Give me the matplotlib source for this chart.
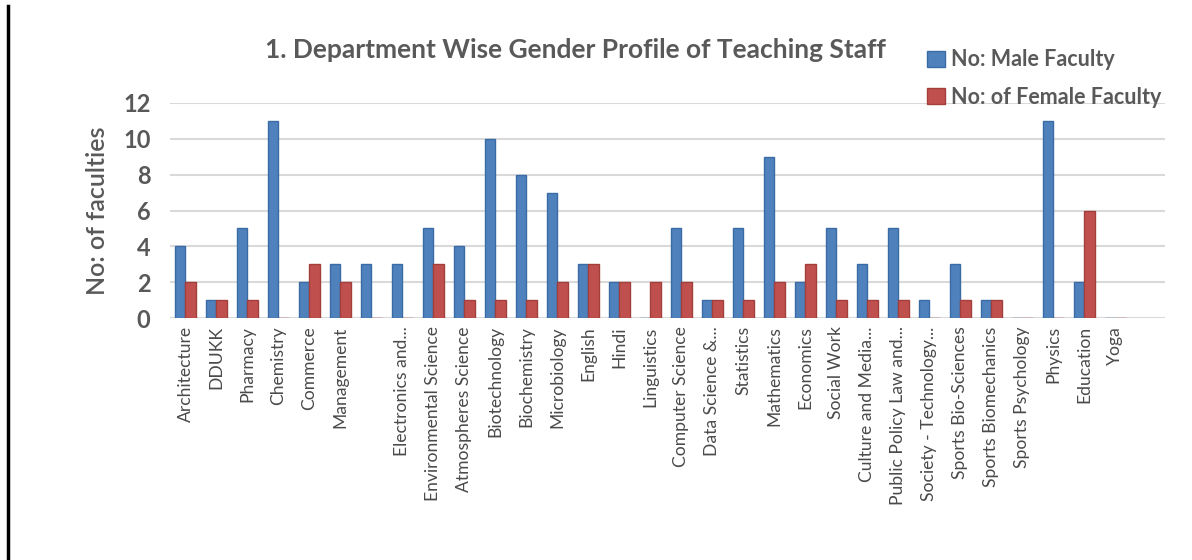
import numpy as np
import matplotlib.pyplot as plt
from matplotlib.lines import Line2D

# department names as printed under the bars (one is blank in the original)
departments = ["Architecture", "DDUKK", "Pharmacy", "Chemistry", "Commerce",
               "Management", "", "Electronics and...", "Environmental Science",
               "Atmospheres Science", "Biotechnology", "Biochemistry",
               "Microbiology", "English", "Hindi", "Linguistics",
               "Computer Science", "Data Science &...", "Statistics",
               "Mathematics", "Economics", "Social Work", "Culture and Media...",
               "Public Policy Law and...", "Society - Technology...",
               "Sports Bio-Sciences", "Sports Biomechanics", "Sports Psychology",
               "Physics", "Education", "Yoga"]

male = [4, 1, 5, 11, 2, 3, 3, 3, 5, 4, 10, 8, 7, 3, 2, 0, 5, 1, 5, 9, 2, 5,
        3, 5, 1, 3, 1, 0, 11, 2, 0]
female = [2, 1, 1, 0, 3, 2, 0, 0, 3, 1, 1, 1, 2, 3, 2, 2, 2, 1, 1, 2, 3, 1,
          1, 1, 0, 1, 1, 0, 0, 6, 0]

yticks = [0, 2, 4, 6, 8, 10, 12]

grey = '#595959'
blue = '#4F81BD'
red = '#C0504D'

fig = plt.figure(figsize=(11.92, 5.6), dpi=100)
ax = fig.add_axes([170 / 1192, 1 - 318 / 560, (1165 - 170) / 1192, (318 - 103) / 560])

x = np.arange(len(departments))
w = 0.35
ax.bar(x - w / 2, male, w, color=blue, edgecolor='#3A6BA5', linewidth=1.0,
       label='No: Male Faculty', zorder=3)
ax.bar(x + w / 2, female, w, color=red, edgecolor='#A23E3B', linewidth=1.0,
       label='No: of Female Faculty', zorder=3)

ax.set_xlim(-0.5, 31.6)
ax.set_ylim(0, 12)
ax.set_yticks(yticks)
ax.set_yticklabels([str(t) for t in yticks], fontsize=17, fontweight='bold',
                   color=grey, family='Lato')
ax.set_xticks(x)
ax.set_xticklabels(departments, rotation=90, fontsize=12.6, color='#4a4a4a',
                   family='Lato')
ax.tick_params(length=0, pad=14)
ax.tick_params(axis='x', pad=6)

ax.yaxis.grid(True, color='#D9D9D9', linewidth=1.5, zorder=0)
for s in ax.spines.values():
    s.set_visible(False)

ax.set_ylabel('No: of faculties', fontsize=18, color=grey, family='Lato',
              fontweight='semibold', labelpad=10)

fig.text(575 / 1192, 1 - 50 / 560,
         '1. Department Wise Gender Profile of Teaching Staff',
         ha='center', va='center', fontsize=19, fontweight='bold', color=grey,
         family='Lato')

leg = fig.legend(loc='upper left', bbox_to_anchor=(908 / 1192, 1 - 30 / 560),
                 frameon=False, handlelength=0.8,
                 handleheight=0.8, handletextpad=0.3, labelspacing=0.75,
                 prop={'family': 'Lato', 'size': 15.5, 'weight': 'bold'})
for t in leg.get_texts():
    t.set_color(grey)

# black rule on the left edge of the page
fig.add_artist(Line2D([8 / 1192, 8 / 1192], [0, 0.99], color='black',
                      linewidth=2.5, transform=fig.transFigure))

fig.savefig('out.png', dpi=100)
